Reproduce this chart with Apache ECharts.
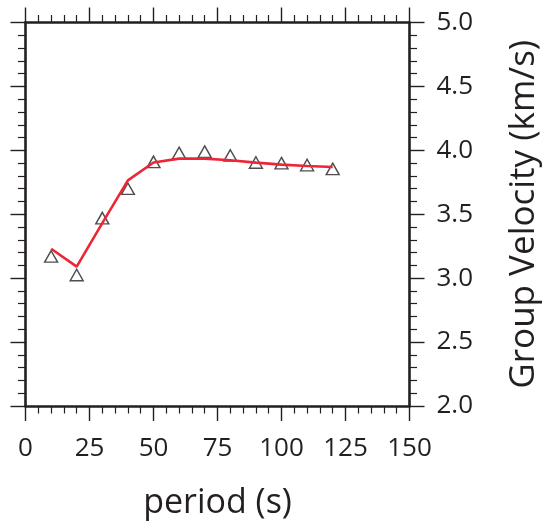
<!DOCTYPE html>
<html>
<head>
<meta charset="utf-8">
<script src="https://cdn.jsdelivr.net/npm/echarts@6/dist/echarts.min.js"></script>
<style>
html,body{margin:0;padding:0;background:#fff;}
#chart{width:552px;height:525px;}
</style>
</head>
<body>
<div id="chart"></div>
<script>
const periods = [10, 20, 30, 40, 50, 60, 70, 80, 90, 100, 110, 120];
const observed = [3.17, 3.025, 3.47, 3.70, 3.91, 3.98, 3.99, 3.96, 3.905, 3.90, 3.885, 3.855];
const model = [3.23, 3.09, 3.43, 3.765, 3.905, 3.935, 3.935, 3.922, 3.904, 3.888, 3.877, 3.87];
const xTicks = [0, 25, 50, 75, 100, 125, 150];
const yTicks = [2.0, 2.5, 3.0, 3.5, 4.0, 4.5, 5.0];

const FONT = '"Open Sans", "Noto Sans", sans-serif';
const INK = '#231f20';

const chart = echarts.init(document.getElementById('chart'), null, {renderer: 'canvas'});

const frameLine = {show: true, onZero: false, lineStyle: {color: INK, width: 2.6}};
const majorTick = {show: true, inside: false, length: 15, lineStyle: {color: INK, width: 1.4}};
const minorTick = {show: true, splitNumber: 5, length: 7.5, lineStyle: {color: INK, width: 1.2}};

const xBase = {
  type: 'value', min: xTicks[0], max: xTicks[xTicks.length - 1], interval: 25,
  axisLine: frameLine, axisTick: majorTick, minorTick: minorTick,
  splitLine: {show: false}
};
const yBase = {
  type: 'value', min: yTicks[0], max: yTicks[yTicks.length - 1], interval: 0.5,
  axisLine: frameLine, axisTick: majorTick, minorTick: minorTick,
  splitLine: {show: false}
};

chart.setOption({
  animation: false,
  backgroundColor: '#fff',
  grid: {left: 25.5, top: 22.5, width: 384, height: 384, containLabel: false},
  xAxis: [
    Object.assign({}, xBase, {
      position: 'bottom',
      name: 'period (s)', nameLocation: 'middle', nameGap: 80,
      nameTextStyle: {fontFamily: FONT, fontSize: 34, color: INK},
      axisLabel: {show: true, margin: 30, fontFamily: FONT, fontSize: 26, color: INK,
        formatter: v => String(v)}
    }),
    Object.assign({}, xBase, {position: 'top', axisLabel: {show: false}})
  ],
  yAxis: [
    Object.assign({}, yBase, {
      position: 'right',
      name: 'Group Velocity (km/s)', nameLocation: 'middle', nameRotate: 90, nameGap: 97,
      nameTextStyle: {fontFamily: FONT, fontSize: 35, color: INK},
      axisLabel: {show: true, margin: 27, fontFamily: FONT, fontSize: 26, color: INK,
        formatter: v => v.toFixed(1)}
    }),
    Object.assign({}, yBase, {position: 'left', axisLabel: {show: false}})
  ],
  series: [
    {
      type: 'scatter', xAxisIndex: 0, yAxisIndex: 0, z: 2,
      symbol: 'triangle', symbolSize: [13, 11.5],
      itemStyle: {color: 'rgba(255,255,255,0)', borderColor: INK, borderWidth: 1.4},
      data: periods.map((p, i) => [p, observed[i]])
    },
    {
      type: 'line', xAxisIndex: 0, yAxisIndex: 0, z: 3,
      symbol: 'none', smooth: false,
      lineStyle: {color: '#ec2637', width: 2.6},
      data: periods.map((p, i) => [p, model[i]])
    }
  ]
});
</script>
</body>
</html>
